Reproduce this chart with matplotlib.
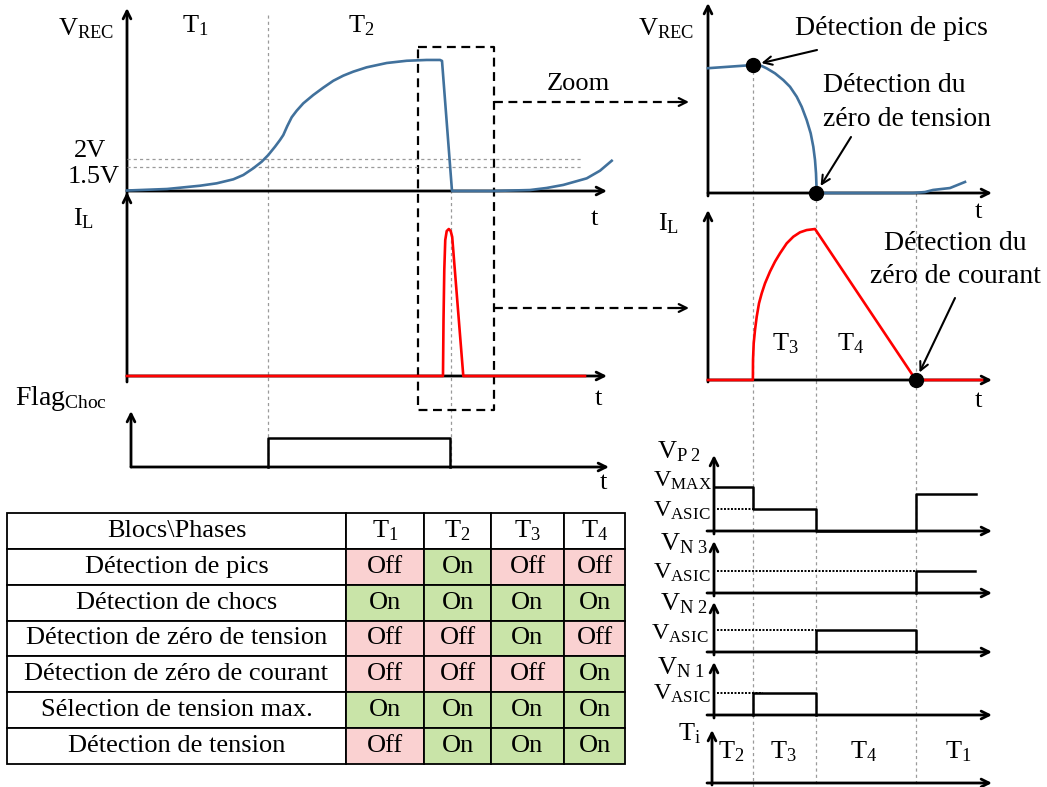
import matplotlib
matplotlib.use('Agg')
import matplotlib.pyplot as plt
import matplotlib.transforms as mtransforms

plt.rcParams['font.family'] = ['Liberation Serif', 'DejaVu Serif']
plt.rcParams['mathtext.fontset'] = 'custom'
plt.rcParams['mathtext.rm'] = 'Liberation Serif'
plt.rcParams['mathtext.it'] = 'Liberation Serif:italic'
plt.rcParams['mathtext.default'] = 'regular'

W, H = 1047, 787
FS = 19

# ---------------- données ----------------
# vue complète (temps arbitraire)
t_vrec = [0.0, 8.25, 15.05, 18.49, 21.92, 23.98, 26.04, 27.77, 29.13, 30.52, 31.55, 32.23,
          33.05, 33.96, 34.99, 36.35, 38.41, 40.47, 42.54, 44.6, 46.66, 49.42, 53.55,
          57.67, 61.79, 64.54, 64.95, 67.01, 75.46, 83.09, 86.54, 89.96, 94.78, 97.53, 99.94]
v_vrec = [0.03, 0.125, 0.33, 0.48, 0.73, 1.0, 1.42, 1.83, 2.25, 2.77, 3.19, 3.5,
          4.06, 4.61, 5.02, 5.48, 6.0, 6.46, 6.89, 7.21, 7.46, 7.73, 8.0,
          8.14, 8.19, 8.19, 8.13, 0.0, 0.0, 0.06, 0.19, 0.38, 0.79, 1.27, 1.89]
t_il = [0.0, 65.15, 65.26, 65.42, 65.62, 65.92, 66.35, 66.74, 67.05, 69.34, 94.43]
i_il = [0.0, 0.0, 0.381, 0.721, 0.925, 0.986, 1.0, 0.986, 0.946, 0.0, 0.0]
t_flag = [29.07, 29.07, 66.6, 66.6]
flag = [0, 1, 1, 0]
t_12 = 29.1          # fin de T1
t_zero = 66.8        # fin du choc
v_seuils = [2.0, 1.5]

# vue zoomée
tz_vrec = [0.0, 15.95, 18.91, 20.67, 23.59, 26.51, 28.87, 31.23, 32.99, 34.75, 36.16,
           37.08, 37.68, 38.03, 38.27, 38.45, 72.18, 76.4, 79.23, 85.2, 90.49]
vz_vrec = [7.8, 8.0, 7.94, 7.79, 7.48, 7.06, 6.64, 6.02, 5.39, 4.56, 3.73,
           2.89, 2.06, 1.23, 0.08, 0.0, 0.0, 0.06, 0.19, 0.31, 0.69]
tz_il = [0.0, 15.8, 15.85, 16.09, 16.55, 17.15, 17.96, 18.91, 20.07, 21.83, 23.59,
         25.35, 27.71, 30.04, 32.39, 34.75, 37.68, 73.2, 96.48]
iz_il = [0.0, 0.0, 0.132, 0.243, 0.331, 0.419, 0.508, 0.574, 0.64, 0.718, 0.784,
         0.839, 0.905, 0.949, 0.978, 0.993, 1.0, 0.0, 0.0]
tz_pic, tz_vzero, tz_izero = 15.95, 38.1, 73.2
vz_pic = 8.0

# tensions des interrupteurs
v_max, v_asic, v_fin = 3.0, 1.5, 2.5
t_vp2 = [2.1, tz_pic, tz_pic, tz_vzero, tz_vzero, tz_izero, tz_izero, 94.2]
vp2 = [v_max, v_max, v_asic, v_asic, 0, 0, v_fin, v_fin]
t_vn3 = [tz_izero, tz_izero, 94.0]
vn3 = [0, v_asic, v_asic]
t_vn2 = [tz_vzero, tz_vzero, tz_izero, tz_izero]
vn2 = [0, v_asic, v_asic, 0]
t_vn1 = [tz_pic, tz_pic, tz_vzero, tz_vzero]
vn1 = [0, v_asic, v_asic, 0]

# tableau
blocs = ['Détection de pics', 'Détection de chocs', 'Détection de zéro de tension',
         'Détection de zéro de courant', 'Sélection de tension max.', 'Détection de tension']
phases = ['$T_1$', '$T_2$', '$T_3$', '$T_4$']
etats = [['Off', 'On', 'Off', 'Off'],
         ['On', 'On', 'On', 'On'],
         ['Off', 'Off', 'On', 'Off'],
         ['Off', 'Off', 'Off', 'On'],
         ['On', 'On', 'On', 'On'],
         ['Off', 'On', 'On', 'On']]

BLEU = '#41719C'
ROUGE = '#FF0000'
ROSE = '#FAD1D1'
VERT = '#C9E4A8'
GRIS = '#9A9A9A'

fig = plt.figure(figsize=(W / 100, H / 100), dpi=100)
ov = fig.add_axes([0, 0, 1, 1])
ov.set_xlim(0, W)
ov.set_ylim(H, 0)
ov.axis('off')


def panel(t0_px, px_t, v0_px, px_v, box):
    x0, y0, x1, y1 = box
    ax = fig.add_axes([x0 / W, 1 - y1 / H, (x1 - x0) / W, (y1 - y0) / H])
    ax.set_xlim((x0 - t0_px) / px_t, (x1 - t0_px) / px_t)
    ax.set_ylim((v0_px - y1) / px_v, (v0_px - y0) / px_v)
    ax.axis('off')
    return ax


def fleche(x0, y0, x1, y1, lw=2.0):
    ov.annotate('', xy=(x1, y1), xytext=(x0, y0),
                arrowprops=dict(arrowstyle='->', lw=lw, color='k', shrinkA=0, shrinkB=0,
                                mutation_scale=14))


def txt(x, y, s, **kw):
    ov.text(x, y, s, fontsize=kw.pop('fontsize', FS), ha=kw.pop('ha', 'left'),
            va='baseline', **kw)


# ---------- panneaux de gauche ----------
ax_v = panel(127, 4.85, 191, 16, (100, 0, 620, 200))
ax_i = panel(127, 4.85, 376, 147, (100, 190, 620, 390))
ax_f = panel(127, 4.85, 467, 29, (100, 400, 620, 480))

tr_l = mtransforms.blended_transform_factory(ax_v.transData, ov.transData)
ov.plot([t_12, t_12], [15, 470], transform=tr_l, color=GRIS, lw=0.9, ls=(0, (2.5, 2.5)))
ov.plot([t_zero, t_zero], [190, 470], transform=tr_l, color=GRIS, lw=0.9, ls=(0, (2.5, 2.5)))
for s in v_seuils:
    ax_v.plot([0, 93.6], [s, s], color=GRIS, lw=0.9, ls=(0, (2.5, 2.5)))

fleche(127, 196, 127, 8)
fleche(127, 191, 607, 191)
fleche(127, 382, 127, 192)
fleche(127, 376, 607, 376)
fleche(131, 467, 131, 411)
fleche(131, 467, 609, 467)

ax_v.plot(t_vrec, v_vrec, color=BLEU, lw=1.9, clip_on=False)
ax_i.plot(t_il, i_il, color=ROUGE, lw=1.9, clip_on=False)
ax_f.plot(t_flag, flag, color='k', lw=1.8, clip_on=False)

# boîte de zoom
ov.plot([418, 494, 494, 418, 418], [47, 47, 410, 410, 47], color='k', lw=1.6,
        ls=(0, (4, 2.5)))
for y in (102, 308):
    ov.plot([494, 680], [y, y], color='k', lw=1.6, ls=(0, (4, 2.5)))
    fleche(676, y, 689, y, lw=1.6)

txt(58, 35, '$V_{REC}$')
txt(182, 32, '$T_1$')
txt(348, 32, '$T_2$')
txt(74, 157, '2V')
txt(68, 183, '1.5V')
txt(547, 90, 'Zoom')
txt(73, 225, '$I_L$')
txt(591, 225, 't')
txt(595, 405, 't')
txt(600, 489, 't')
txt(15, 405, '$Flag_{Choc}$', fontsize=20)

# ---------- panneaux zoomés ----------
az_v = panel(708, 2.84, 193, 16, (700, 0, 1000, 200))
az_i = panel(708, 2.84, 380, 151, (700, 200, 1000, 390))
az_p2 = panel(708, 2.84, 531, 14.67, (700, 450, 1000, 535))
az_n3 = panel(708, 2.84, 593, 14.67, (700, 538, 1000, 597))
az_n2 = panel(708, 2.84, 652, 14.67, (700, 598, 1000, 656))
az_n1 = panel(708, 2.84, 715, 14.67, (700, 658, 1000, 719))

tr_r = mtransforms.blended_transform_factory(az_v.transData, ov.transData)
ov.plot([tz_pic, tz_pic], [65, 787], transform=tr_r, color=GRIS, lw=0.9, ls=(0, (2.5, 2.5)))
ov.plot([tz_vzero, tz_vzero], [193, 787], transform=tr_r, color=GRIS, lw=0.9, ls=(0, (2.5, 2.5)))
ov.plot([tz_izero, tz_izero], [193, 787], transform=tr_r, color=GRIS, lw=0.9, ls=(0, (2.5, 2.5)))

fleche(708, 196, 708, 3)
fleche(708, 193, 992, 193)
fleche(708, 382, 708, 210)
fleche(708, 380, 992, 380)
for y_b, y_t in ((531, 455), (593, 541), (652, 602), (715, 662)):
    fleche(714, y_b + 3, 714, y_t)
    fleche(707, y_b, 992, y_b)
fleche(712, 785, 712, 730)
fleche(707, 783, 992, 783)

az_v.plot(tz_vrec, vz_vrec, color=BLEU, lw=1.9, clip_on=False)
az_i.plot(tz_il, iz_il, color=ROUGE, lw=1.9, clip_on=False)
az_v.plot([tz_pic, tz_vzero], [vz_pic, 0], 'o', color='k', ms=10, clip_on=False)
az_i.plot([tz_izero], [0], 'o', color='k', ms=10, clip_on=False)

for ax_s, t_s, v_s, t_dot in ((az_p2, t_vp2, vp2, tz_pic), (az_n3, t_vn3, vn3, tz_izero),
                              (az_n2, t_vn2, vn2, tz_vzero), (az_n1, t_vn1, vn1, 19.4)):
    ax_s.plot([3.0, t_dot], [v_asic, v_asic], color='k', lw=1.4, ls=(0, (1, 0.8)),
              clip_on=False)
    ax_s.plot(t_s, v_s, color='k', lw=1.8, clip_on=False)

# flèches d'annotation
arrow_kw = dict(arrowstyle='->', lw=1.5, color='k', shrinkA=0, shrinkB=6, mutation_scale=15)
ov.annotate('', xy=(tz_pic, vz_pic), xycoords=az_v.transData, xytext=(817, 50),
            textcoords=ov.transData, arrowprops=arrow_kw)
ov.annotate('', xy=(tz_vzero, 0), xycoords=az_v.transData, xytext=(851, 137),
            textcoords=ov.transData, arrowprops=arrow_kw)
ov.annotate('', xy=(tz_izero, 0), xycoords=az_i.transData, xytext=(955, 298),
            textcoords=ov.transData, arrowprops=arrow_kw)

FA = 20
txt(638, 35, '$V_{REC}$')
txt(795, 35, 'Détection de pics', fontsize=FA)
txt(823, 92, 'Détection du', fontsize=FA)
txt(823, 126, 'zéro de tension', fontsize=FA)
txt(658, 230, '$I_L$')
txt(975, 218, 't')
txt(975, 407, 't')
txt(772, 350, '$T_3$')
txt(837, 350, '$T_4$')
txt(884, 250, 'Détection du', fontsize=FA)
txt(870, 283, 'zéro de courant', fontsize=FA)

FB = 17.5
txt(657, 458, '$V_{P\\ 2}$')
txt(653, 487, '$V_{MAX}$', fontsize=FB)
txt(653, 517, '$V_{ASIC}$', fontsize=FB)
txt(660, 550, '$V_{N\\ 3}$')
txt(653, 579, '$V_{ASIC}$', fontsize=FB)
txt(660, 610, '$V_{N\\ 2}$')
txt(651, 640, '$V_{ASIC}$', fontsize=FB)
txt(657, 674, '$V_{N\\ 1}$')
txt(653, 700, '$V_{ASIC}$', fontsize=FB)
txt(678, 740, '$T_i$')
txt(718, 758, '$T_2$')
txt(770, 758, '$T_3$')
txt(850, 758, '$T_4$')
txt(945, 758, '$T_1$')

# ---------- tableau ----------
cell_text = [['Blocs\\Phases'] + phases] + [[b] + e for b, e in zip(blocs, etats)]
cell_col = [['white'] * 5] + [['white'] + [VERT if s == 'On' else ROSE for s in e]
                              for e in etats]
col_w = [339, 78, 67, 73, 61]
tab = ov.table(cellText=cell_text, cellColours=cell_col, cellLoc='center',
               colWidths=[w / sum(col_w) for w in col_w],
               bbox=[7 / W, 1 - 764 / H, 618 / W, 251 / H])
tab.auto_set_font_size(False)
tab.set_fontsize(FS)
for cell in tab.get_celld().values():
    cell.set_edgecolor('k')
    cell.set_linewidth(1.3)

fig.savefig('out.png', dpi=100, facecolor='white')
